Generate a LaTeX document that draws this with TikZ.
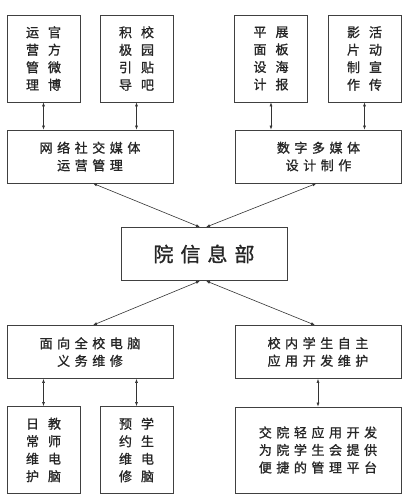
\documentclass[tikz,border=0pt]{standalone}
\usepackage{fontspec}
\newfontfamily\cjk[LetterSpace=35,FakeBold=1.2]{Noto Sans CJK SC}
\usetikzlibrary{arrows.meta}
\begin{document}
\begin{tikzpicture}[x=1pt,y=-1pt,
    box/.style={draw=black!75,line width=0.8pt,align=center,inner sep=0pt,text=black!85,
      font=\cjk\fontsize{13}{17.5}\selectfont},
    tall/.style={box,minimum width=73pt,minimum height=87pt},
    wide/.style={box,minimum width=166pt,minimum height=53pt},
    link/.style={{Latex[length=4pt,width=3pt]}-{Latex[length=4pt,width=3pt]},line width=0.6pt,draw=black!80}]
        \useasboundingbox (0,0) rectangle (413,504);
        \node[tall] (guanwei) at (43.5,58.5) {运\hspace{9pt}官\\营\hspace{9pt}方\\管\hspace{9pt}微\\理\hspace{9pt}博};
        \node[tall] (tieba) at (136.5,58.5) {积\hspace{9pt}校\\极\hspace{9pt}园\\引\hspace{9pt}贴\\导\hspace{9pt}吧};
        \node[tall] (haibao) at (271,58.5) {平\hspace{9pt}展\\面\hspace{9pt}板\\设\hspace{9pt}海\\计\hspace{9pt}报};
        \node[tall] (yingpian) at (364.5,58.5) {影\hspace{9pt}活\\片\hspace{9pt}动\\制\hspace{9pt}宣\\作\hspace{9pt}传};
        \node[wide] (shejiao) at (90,156.5) {网络社交媒体\\运营管理};
        \node[wide] (duomeiti) at (318.5,156.5) {数字多媒体\\设计制作};
        \node[wide,font=\cjk\fontsize{20}{22}\selectfont] (xinxibu) at (204,254) {院信息部};
        \node[wide] (weixiu) at (90,352) {面向全校电脑\\义务维修};
        \node[wide] (kaifa) at (318,352) {校内学生自主\\应用开发维护};
        \node[tall] (richang) at (43.5,450) {日\hspace{9pt}教\\常\hspace{9pt}师\\维\hspace{9pt}电\\护\hspace{9pt}脑};
        \node[tall] (yuyue) at (136.5,450) {预\hspace{9pt}学\\约\hspace{9pt}生\\维\hspace{9pt}电\\修\hspace{9pt}脑};
        \node[wide,minimum height=86pt] (pingtai) at (318,450) {交院轻应用开发\\为院学生会提供\\便捷的管理平台};
        \draw[link] (guanwei.south) -- (guanwei.south |- shejiao.north);
        \draw[link] (tieba.south) -- (tieba.south |- shejiao.north);
        \draw[link] (haibao.south) -- (haibao.south |- duomeiti.north);
        \draw[link] (yingpian.south) -- (yingpian.south |- duomeiti.north);
        \draw[link] ([xshift=3pt]shejiao.south) -- ([xshift=-4pt]xinxibu.north);
        \draw[link] ([xshift=-2pt]duomeiti.south) -- ([xshift=2pt]xinxibu.north);
        \draw[link] ([xshift=-4pt]xinxibu.south) -- ([xshift=3pt]weixiu.north);
        \draw[link] ([xshift=2pt]xinxibu.south) -- ([xshift=-3pt]kaifa.north);
        \draw[link] (richang.north) -- (richang.north |- weixiu.south);
        \draw[link] (yuyue.north) -- (yuyue.north |- weixiu.south);
        \draw[link] (pingtai.north) -- (kaifa.south);
\end{tikzpicture}
\end{document}
